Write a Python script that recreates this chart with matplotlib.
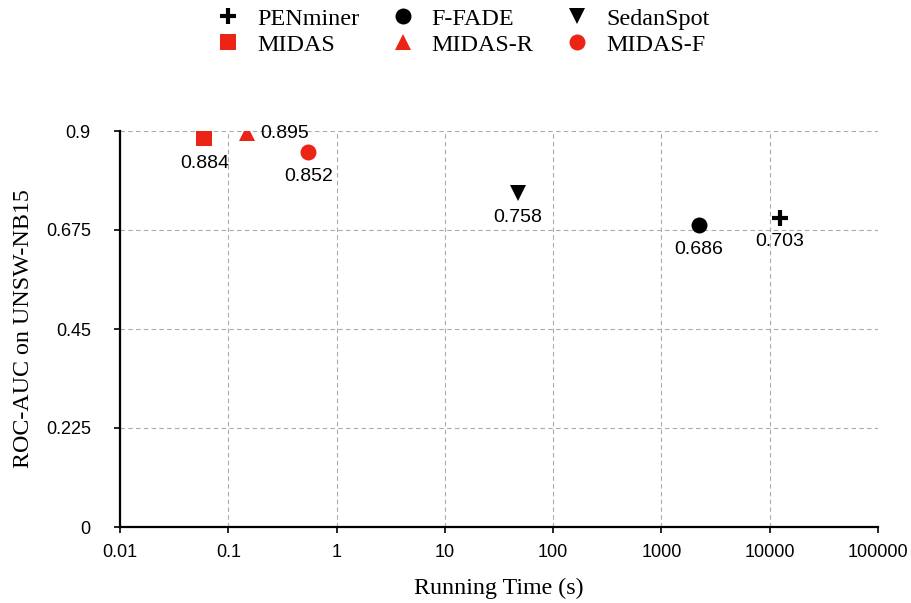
import matplotlib
matplotlib.use("Agg")
import matplotlib.pyplot as plt
from matplotlib.ticker import FixedLocator, NullLocator

methods = ["PENminer", "F-FADE", "SedanSpot", "MIDAS", "MIDAS-R", "MIDAS-F"]
run_time = [12400, 2200, 47, 0.06, 0.15, 0.55]
roc_auc = [0.703, 0.686, 0.758, 0.884, 0.895, 0.852]

x_ticks = [0.01, 0.1, 1, 10, 100, 1000, 10000, 100000]
x_tick_labels = ["0.01", "0.1", "1", "10", "100", "1000", "10000", "100000"]
y_ticks = [0, 0.225, 0.45, 0.675, 0.9]
y_tick_labels = ["0", "0.225", "0.45", "0.675", "0.9"]

RED = "#EC2416"
styles = {
    "PENminer": dict(marker="+", color="black", ms=11),
    "F-FADE": dict(marker="o", color="black", ms=11.5),
    "SedanSpot": dict(marker="v", color="black", ms=12),
    "MIDAS": dict(marker="s", color=RED, ms=11),
    "MIDAS-R": dict(marker="^", color=RED, ms=12),
    "MIDAS-F": dict(marker="o", color=RED, ms=11.5),
}
# value label offsets in points (dx, dy, alignment)
label_offsets = {
    "PENminer": (0, -17.5, "center"),
    "F-FADE": (0, -17.5, "center"),
    "SedanSpot": (0, -17.5, "center"),
    "MIDAS": (0, -18, "center"),
    "MIDAS-R": (9.5, -0.5, "left"),
    "MIDAS-F": (0, -17.5, "center"),
}

serif = ["Liberation Serif", "DejaVu Serif"]
sans = ["Liberation Sans", "DejaVu Sans"]

fig = plt.figure(figsize=(9.11, 6.03), dpi=100)
ax = fig.add_axes([120 / 911, 1 - 527 / 603, 758 / 911, 396 / 603])

handles = {}
for m, x, y in zip(methods, run_time, roc_auc):
    st = styles[m]
    if st["marker"] == "+":
        h, = ax.plot([x], [y], linestyle="none", marker="+", color="black",
                     ms=st["ms"], mew=3, label=m, zorder=3)
    else:
        h, = ax.plot([x], [y], linestyle="none", marker=st["marker"],
                     color=st["color"], ms=st["ms"], mew=0, label=m, zorder=3)
    handles[m] = h
    dx, dy, ha = label_offsets[m]
    ax.annotate(f"{y:.3f}", (x, y), xytext=(dx, dy), textcoords="offset points",
                ha=ha, va="center", fontsize=14, family=sans)

ax.set_xscale("log")
ax.set_xlim(0.01, 100000)
ax.set_ylim(0, 0.9)
ax.xaxis.set_major_locator(FixedLocator(x_ticks))
ax.xaxis.set_minor_locator(NullLocator())
ax.set_xticklabels(x_tick_labels)
ax.set_yticks(y_ticks)
ax.set_yticklabels(y_tick_labels)
for lab in ax.get_xticklabels() + ax.get_yticklabels():
    lab.set_family(sans)
    lab.set_fontsize(13)

ax.grid(True, which="major", linestyle=(0, (4, 3)), color="#aaaaaa", linewidth=0.8)
ax.set_axisbelow(True)
for s in ["top", "right"]:
    ax.spines[s].set_visible(False)
for s in ["left", "bottom"]:
    ax.spines[s].set_linewidth(1.6)
ax.tick_params(direction="out", length=4, width=1.2)
ax.tick_params(axis="x", pad=8)
ax.tick_params(axis="y", pad=17)

ax.set_xlabel("Running Time (s)", family=serif, fontsize=17.3, labelpad=12)
ax.set_ylabel("ROC-AUC on UNSW-NB15", family=serif, fontsize=17.3, labelpad=8.5)

order = ["PENminer", "MIDAS", "F-FADE", "MIDAS-R", "SedanSpot", "MIDAS-F"]
leg = fig.legend([handles[m] for m in order], order, ncol=3, loc="upper left",
                 bbox_to_anchor=(211 / 911, 1 - 3 / 603), frameon=False,
                 prop=dict(family=serif, size=17.4), columnspacing=1.3,
                 handletextpad=0.7, labelspacing=0.16, handlelength=1.0,
                 borderaxespad=0.0, borderpad=0.2)

fig.savefig("out.png", dpi=100)
